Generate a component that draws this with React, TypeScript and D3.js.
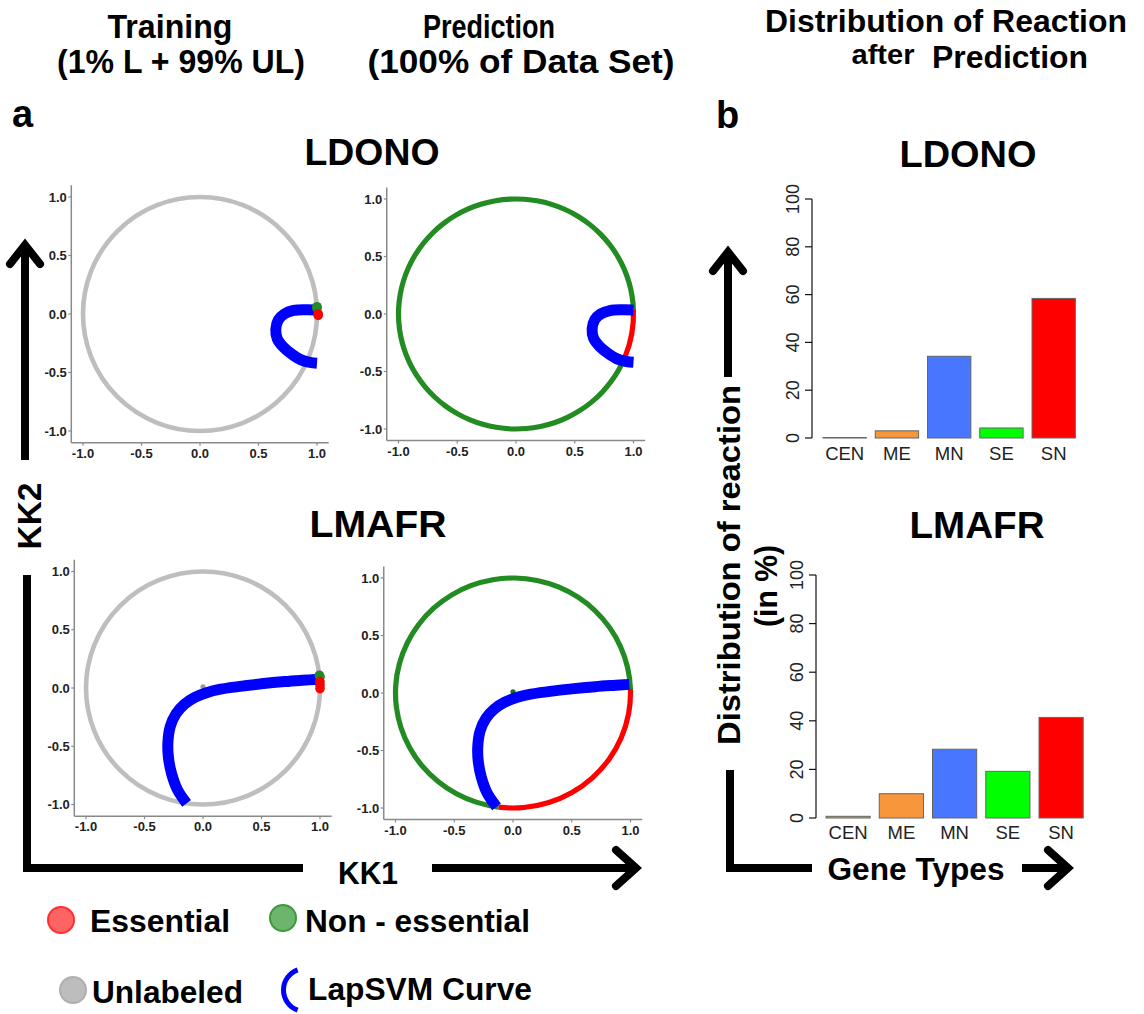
import React from "react";
import * as d3 from "d3";

// ---------- data ----------
const categories = ["CEN", "ME", "MN", "SE", "SN"];
const ldonoDist = [0.2, 3.0, 34.2, 4.2, 58.4];
const lmafrDist = [0.7, 10.0, 28.3, 19.2, 41.4];
const barColors = ["#C8AC2A", "#F7963A", "#4876FF", "#00FF00", "#FF0000"];
const barTicks = [0, 20, 40, 60, 80, 100];
const kkTicks = [-1.0, -0.5, 0.0, 0.5, 1.0];

// LapSVM decision curves (KK1, KK2)
const ldonoCurveX = [1.0, 0.9, 0.8, 0.72, 0.67, 0.648, 0.66, 0.71, 0.78, 0.86, 0.94, 1.0];
const ldonoCurveY = [0.035, 0.037, 0.03, 0.0, -0.05, -0.13, -0.21, -0.28, -0.34, -0.39, -0.413, -0.42];
const lmafrCurveX = [0.99, 0.85, 0.7, 0.5, 0.3, 0.15, 0.03, -0.07, -0.16, -0.23, -0.28, -0.30, -0.295, -0.27, -0.22, -0.14];
const lmafrCurveY = [0.075, 0.066, 0.055, 0.036, 0.012, -0.01, -0.04, -0.08, -0.14, -0.22, -0.33, -0.47, -0.6, -0.73, -0.87, -0.99];

// labelled training points
const ldonoEssX = [1.01, 1.01];
const ldonoEssY = [0.0, -0.012];
const ldonoNonX = [1.0, 1.0];
const ldonoNonY = [0.05, 0.062];
const lmafrEssX = [1.0, 1.0, 1.0];
const lmafrEssY = [0.055, 0.025, -0.005];
const lmafrNonX = [1.0, 0.995];
const lmafrNonY = [0.095, 0.11];

// predicted essential arc on the unit circle (degrees, start/end)
const ldonoRedArc = [2, -22];
const lmafrRedArc = [2, -97];

const FONT = "'Liberation Sans', Arial, Helvetica, sans-serif";
const GREY = "#BEBEBE";
const GREEN = "#228B22";
const RED = "#FF0000";
const BLUE = "#0000FF";

type PanelProps = {
  cx: number; cy: number; ux: number; uy: number;
  predicted: boolean;
  curveX: number[]; curveY: number[];
  essX?: number[]; essY?: number[]; nonX?: number[]; nonY?: number[];
  redArc?: number[];
  centerDot?: string;
};

function ScatterPanel(p: PanelProps) {
  const x = d3.scaleLinear().domain([-1, 1]).range([p.cx - p.ux, p.cx + p.ux]);
  const y = d3.scaleLinear().domain([-1, 1]).range([p.cy + p.uy, p.cy - p.uy]);
  const left = x(-1.1), right = x(1.1), top = y(1.1), bottom = y(-1.1);
  const line = d3.line<number>()
    .x((_, i) => x(p.curveX[i]))
    .y((d) => y(d))
    .curve(d3.curveCatmullRom.alpha(0.5));
  const toD3 = (deg: number) => ((90 - deg) * Math.PI) / 180;
  const arcGen = d3.arc<any>().innerRadius(p.ux - 2.6).outerRadius(p.ux + 2.6);
  let arcs: React.ReactNode = null;
  if (p.predicted && p.redArc) {
    const a0 = toD3(p.redArc[0]);
    const a1 = toD3(p.redArc[1]);
    arcs = (
      <g transform={`translate(${x(0)},${y(0)}) scale(1,${p.uy / p.ux})`}>
        <path d={arcGen({ startAngle: a1, endAngle: a0 + 2 * Math.PI }) as string} fill={GREEN} />
        <path d={arcGen({ startAngle: a0, endAngle: a1 }) as string} fill={RED} />
      </g>
    );
  }
  return (
    <g>
      {/* axes */}
      <line x1={left} x2={left} y1={top} y2={bottom} stroke="#8a8a8a" strokeWidth={1.5} />
      <line x1={left} x2={right} y1={bottom} y2={bottom} stroke="#8a8a8a" strokeWidth={1.5} />
      {kkTicks.map((t) => (
        <g key={"y" + t}>
          <line x1={left - 3} x2={left} y1={y(t)} y2={y(t)} stroke="#8a8a8a" strokeWidth={1.2} />
          <text x={left - 4.5} y={y(t) + 4.5} textAnchor="end" fontSize={13} fontWeight="bold" fill="#222" fontFamily={FONT}>
            {t.toFixed(1)}
          </text>
        </g>
      ))}
      {kkTicks.map((t) => (
        <g key={"x" + t}>
          <line x1={x(t)} x2={x(t)} y1={bottom} y2={bottom + 3} stroke="#8a8a8a" strokeWidth={1.2} />
          <text x={x(t)} y={bottom + 15} textAnchor="middle" fontSize={13} fontWeight="bold" fill="#222" fontFamily={FONT}>
            {t.toFixed(1)}
          </text>
        </g>
      ))}
      {/* circle */}
      {!p.predicted && (
        <ellipse cx={x(0)} cy={y(0)} rx={p.ux} ry={p.uy} fill="none" stroke={GREY} strokeWidth={4.6} />
      )}
      {arcs}
      {p.centerDot && <circle cx={x(0)} cy={y(0.01)} r={2.6} fill={p.centerDot} />}
      {/* LapSVM curve */}
      <path d={line(p.curveY) as string} fill="none" stroke={BLUE} strokeWidth={11} strokeLinecap="butt" />
      {/* labelled points */}
      {p.nonX && p.nonY && p.nonX.map((v, i) => (
        <circle key={"n" + i} cx={x(v)} cy={y(p.nonY![i])} r={4.8} fill={GREEN} />
      ))}
      {p.essX && p.essY && p.essX.map((v, i) => (
        <circle key={"e" + i} cx={x(v)} cy={y(p.essY![i])} r={4.8} fill={RED} />
      ))}
    </g>
  );
}

type BarProps = { x0: number; step: number; yBase: number; yTop: number; axisX: number; values: number[]; labelY: number };

function BarPanel(b: BarProps) {
  const xb = d3.scaleBand<string>()
    .domain(categories)
    .range([b.x0 - 0.085 * b.step, b.x0 - 0.085 * b.step + 5 * b.step])
    .paddingInner(0.17)
    .paddingOuter(0.085);
  const y = d3.scaleLinear().domain([0, 100]).range([b.yBase, b.yTop]);
  return (
    <g>
      <line x1={b.axisX} x2={b.axisX} y1={y(0)} y2={y(100)} stroke="#111" strokeWidth={1.2} />
      {barTicks.map((t) => (
        <g key={t}>
          <line x1={b.axisX - 7} x2={b.axisX} y1={y(t)} y2={y(t)} stroke="#111" strokeWidth={1.2} />
          <text
            transform={`translate(${b.axisX - 13},${y(t)}) rotate(-90)`}
            textAnchor="middle" fontSize={18} fill="#222" fontFamily={FONT}
          >
            {t}
          </text>
        </g>
      ))}
      {categories.map((c, i) => (
        <g key={c}>
          <rect
            x={xb(c)!} width={xb.bandwidth()}
            y={y(b.values[i])} height={Math.max(0.5, y(0) - y(b.values[i]))}
            fill={barColors[i]} stroke="#666" strokeWidth={1}
          />
          <text x={xb(c)! + xb.bandwidth() / 2} y={b.labelY} textAnchor="middle" fontSize={18.5} fill="#222" fontFamily={FONT}>
            {c}
          </text>
        </g>
      ))}
    </g>
  );
}

function Chevron({ x, y, dir }: { x: number; y: number; dir: "up" | "right" }) {
  const d = dir === "up"
    ? `M${x - 15},${y + 19} L${x},${y} L${x + 15},${y + 19}`
    : `M${x - 20},${y - 18} L${x},${y} L${x - 20},${y + 18}`;
  return <path d={d} fill="none" stroke="#000" strokeWidth={8} strokeLinejoin="miter" strokeLinecap="round" />;
}

export default function App() {
  const boldText = { fontFamily: FONT, fontWeight: "bold" as const, fill: "#000" };
  const blueArc = d3.arc<any>().innerRadius(19).outerRadius(24)({ startAngle: (200 * Math.PI) / 180, endAngle: (340 * Math.PI) / 180 }) as string;
  return (
    <svg width={1144} height={1014} style={{ position: "absolute", left: 0, top: 0, background: "#fff" }}>
      <rect width={1144} height={1014} fill="#fff" />
      {/* headings */}
      <text x={170} y={38} textAnchor="middle" fontSize={33} textLength={125} lengthAdjust="spacingAndGlyphs" {...boldText}>Training</text>
      <text x={181} y={73} textAnchor="middle" fontSize={33} textLength={248} lengthAdjust="spacingAndGlyphs" {...boldText}>(1% L + 99% UL)</text>
      <text x={489} y={38} textAnchor="middle" fontSize={33} textLength={132} lengthAdjust="spacingAndGlyphs" {...boldText}>Prediction</text>
      <text x={521} y={73} textAnchor="middle" fontSize={33} textLength={307} lengthAdjust="spacingAndGlyphs" {...boldText}>(100% of Data Set)</text>
      <text x={946} y={32} textAnchor="middle" fontSize={31} textLength={362} lengthAdjust="spacingAndGlyphs" {...boldText}>Distribution of Reaction</text>
      <text x={883} y={64} textAnchor="middle" fontSize={28} textLength={63} lengthAdjust="spacingAndGlyphs" {...boldText}>after</text>
      <text x={1010} y={68} textAnchor="middle" fontSize={31} textLength={156} lengthAdjust="spacingAndGlyphs" {...boldText}>Prediction</text>

      <text x={12} y={127} fontSize={38} {...boldText}>a</text>
      <text x={716} y={128} fontSize={38} {...boldText}>b</text>

      <text x={372} y={165} textAnchor="middle" fontSize={36} textLength={135} lengthAdjust="spacingAndGlyphs" {...boldText}>LDONO</text>
      <text x={378} y={537} textAnchor="middle" fontSize={36} textLength={137} lengthAdjust="spacingAndGlyphs" {...boldText}>LMAFR</text>
      <text x={968} y={167} textAnchor="middle" fontSize={36} textLength={137} lengthAdjust="spacingAndGlyphs" {...boldText}>LDONO</text>
      <text x={977} y={538} textAnchor="middle" fontSize={36} textLength={135} lengthAdjust="spacingAndGlyphs" {...boldText}>LMAFR</text>

      {/* scatter panels */}
      <ScatterPanel cx={200} cy={314} ux={117} uy={117} predicted={false}
        curveX={ldonoCurveX} curveY={ldonoCurveY}
        essX={ldonoEssX} essY={ldonoEssY} nonX={ldonoNonX} nonY={ldonoNonY} />
      <ScatterPanel cx={516} cy={314} ux={117.5} uy={115} predicted={true}
        curveX={ldonoCurveX} curveY={ldonoCurveY} redArc={ldonoRedArc} />
      <ScatterPanel cx={203} cy={688} ux={117} uy={116.5} predicted={false}
        curveX={lmafrCurveX} curveY={lmafrCurveY}
        essX={lmafrEssX} essY={lmafrEssY} nonX={lmafrNonX} nonY={lmafrNonY} centerDot="#999" />
      <ScatterPanel cx={513} cy={693} ux={117.5} uy={115} predicted={true}
        curveX={lmafrCurveX} curveY={lmafrCurveY} redArc={lmafrRedArc} centerDot="#1f6e1f" />

      {/* bar panels */}
      <BarPanel x0={823} step={52.25} yBase={438} yTop={199} axisX={812} values={ldonoDist} labelY={460} />
      <BarPanel x0={826} step={53.25} yBase={818} yTop={575} axisX={816} values={lmafrDist} labelY={839} />

      {/* KK axes arrows */}
      <line x1={25} x2={25} y1={460} y2={247} stroke="#000" strokeWidth={8} />
      <Chevron x={25} y={245} dir="up" />
      <text transform="translate(41,516) rotate(-90)" textAnchor="middle" fontSize={34} textLength={67} lengthAdjust="spacingAndGlyphs" {...boldText}>KK2</text>
      <path d="M27,575 V868 H303" fill="none" stroke="#000" strokeWidth={8} strokeLinejoin="miter" />
      <text x={368} y={884} textAnchor="middle" fontSize={32} textLength={60} lengthAdjust="spacingAndGlyphs" {...boldText}>KK1</text>
      <line x1={432} x2={634} y1={868} y2={868} stroke="#000" strokeWidth={8} />
      <Chevron x={636} y={868} dir="right" />

      {/* distribution axes arrows */}
      <line x1={728} x2={728} y1={377} y2={254} stroke="#000" strokeWidth={8} />
      <Chevron x={728} y={252} dir="up" />
      <text transform="translate(740,565) rotate(-90)" textAnchor="middle" fontSize={32} textLength={360} lengthAdjust="spacingAndGlyphs" {...boldText}>Distribution of reaction</text>
      <text transform="translate(777,586) rotate(-90)" textAnchor="middle" fontSize={32} textLength={82} lengthAdjust="spacingAndGlyphs" {...boldText}>(in %)</text>
      <path d="M730,770 V868 H812" fill="none" stroke="#000" strokeWidth={8} strokeLinejoin="miter" />
      <text x={916} y={880} textAnchor="middle" fontSize={31} textLength={177} lengthAdjust="spacingAndGlyphs" {...boldText}>Gene Types</text>
      <line x1={1022} x2={1066} y1={868} y2={868} stroke="#000" strokeWidth={8} />
      <Chevron x={1068} y={868} dir="right" />

      {/* legend */}
      <circle cx={61} cy={920} r={13} fill="#FF6464" stroke="#FF3030" strokeWidth={2} />
      <text x={90} y={932} fontSize={31} textLength={140} lengthAdjust="spacingAndGlyphs" {...boldText}>Essential</text>
      <circle cx={283} cy={918} r={13} fill="#6DB56D" stroke="#3E9A3E" strokeWidth={2} />
      <text x={305} y={932} fontSize={31} textLength={225} lengthAdjust="spacingAndGlyphs" {...boldText}>Non - essential</text>
      <circle cx={73} cy={990} r={13} fill="#BDBDBD" stroke="#AFAFAF" strokeWidth={2} />
      <text x={92} y={1003} fontSize={31} textLength={151} lengthAdjust="spacingAndGlyphs" {...boldText}>Unlabeled</text>
      <path d={blueArc} transform="translate(305,990)" fill={BLUE} />
      <text x={308} y={1000} fontSize={31} textLength={224} lengthAdjust="spacingAndGlyphs" {...boldText}>LapSVM Curve</text>
    </svg>
  );
}
